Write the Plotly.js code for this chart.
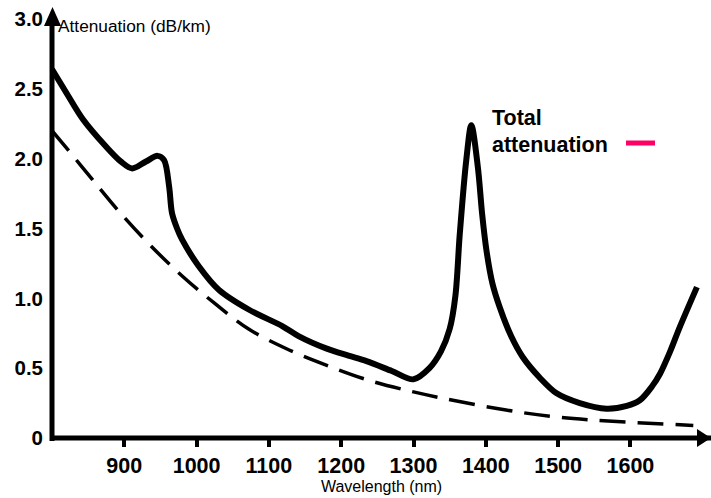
<!DOCTYPE html>
<html>
<head>
<meta charset="utf-8">
<script src="https://cdn.plot.ly/plotly-3.0.1.min.js"></script>
<style>html,body{margin:0;padding:0;background:#fff;}#chart{width:711px;height:498px;}</style>
</head>
<body>
<div id="chart"></div>
<script>
// Total attenuation curve (solid)
const totalWavelength = [800, 820, 843, 874, 895, 911, 930, 946, 955, 962, 966, 973, 980, 1003, 1031, 1072, 1119, 1141, 1180, 1210, 1235, 1270, 1300, 1322, 1338, 1350, 1358, 1364, 1373, 1380, 1389, 1395, 1401, 1409, 1419, 1435, 1451, 1475, 1498, 1530, 1567, 1595, 1613, 1630, 1641, 1655, 1668, 1692];
const totalAtten = [2.64, 2.47, 2.28, 2.09, 1.98, 1.93, 1.98, 2.02, 1.99, 1.80, 1.61, 1.50, 1.42, 1.23, 1.06, 0.92, 0.80, 0.73, 0.64, 0.59, 0.55, 0.48, 0.42, 0.50, 0.62, 0.78, 1.02, 1.46, 1.99, 2.24, 1.94, 1.60, 1.34, 1.11, 0.94, 0.73, 0.58, 0.43, 0.32, 0.25, 0.21, 0.23, 0.27, 0.37, 0.46, 0.62, 0.79, 1.08];
// Rayleigh scattering curve (dashed)
const rayleighWavelength = [800, 829, 856, 893, 934, 980, 1026, 1072, 1128, 1180, 1240, 1300, 1345, 1428, 1490, 1544, 1610, 1687];
const rayleighAtten = [2.20, 2.02, 1.85, 1.62, 1.39, 1.16, 0.96, 0.78, 0.63, 0.52, 0.41, 0.33, 0.28, 0.20, 0.155, 0.13, 0.11, 0.09];
// Tick labels
const xTickVals = [900, 1000, 1100, 1200, 1300, 1400, 1500, 1600];
const yTickVals = [0, 0.5, 1.0, 1.5, 2.0, 2.5, 3.0];
const yTickText = ["0", "0.5", "1.0", "1.5", "2.0", "2.5", "3.0"];

const W = 711, H = 498, L = 52, R = 0, T = 19, B = 60;
const PW = W - L - R, PH = H - T - B;
const px = x => (x - L) / PW;
const py = y => (H - B - y) / PH;

const FONT = 'Arial, "Liberation Sans", Helvetica, sans-serif';

const traces = [
  {x: totalWavelength, y: totalAtten, type: 'scatter', mode: 'lines',
   line: {color: '#000', width: 6, shape: 'spline', smoothing: 0.9}, showlegend: false, hoverinfo: 'skip'},
  {x: rayleighWavelength, y: rayleighAtten, type: 'scatter', mode: 'lines',
   line: {color: '#000', width: 3.5, dash: '26px,12px', shape: 'spline', smoothing: 1}, showlegend: false, hoverinfo: 'skip'}
];

const layout = {
  width: W, height: H,
  margin: {l: L, r: R, t: T, b: B, pad: 0},
  paper_bgcolor: '#fff', plot_bgcolor: '#fff',
  font: {family: FONT, color: '#000'},
  showlegend: false,
  xaxis: {
    range: [800, 800 + PW / 0.723], showgrid: false, zeroline: false, showline: false,
    tickmode: 'array', tickvals: xTickVals, ticks: 'outside', ticklen: 8, tickwidth: 4, tickcolor: '#000',
    tickfont: {family: FONT, size: 21.5, weight: 'bold', color: '#000'},
    title: {text: 'Wavelength (nm)', font: {family: FONT, size: 16, color: '#000'}, standoff: 2}
  },
  yaxis: {
    range: [0, 3], showgrid: false, zeroline: false, showline: false,
    tickmode: 'array', tickvals: yTickVals, ticktext: yTickText, ticks: '',
    ticklabelstandoff: 8,
    tickfont: {family: FONT, size: 20.5, weight: 'bold', color: '#000'}
  },
  shapes: [
    {type: 'line', xref: 'paper', yref: 'paper', x0: 0, x1: 0, y0: py(441), y1: 1, line: {color: '#000', width: 5}},
    {type: 'line', xref: 'paper', yref: 'paper', x0: px(50), x1: 1, y0: 0, y1: 0, line: {color: '#000', width: 5}},
    {type: 'path', xref: 'paper', yref: 'paper', fillcolor: '#000', line: {width: 0},
     path: `M ${px(52.5)} ${py(7)} L ${px(44)} ${py(26)} L ${px(61)} ${py(26)} Z`},
    {type: 'path', xref: 'paper', yref: 'paper', fillcolor: '#000', line: {width: 0},
     path: `M ${px(711)} ${py(438)} L ${px(697)} ${py(429)} L ${px(697)} ${py(447)} Z`},
    {type: 'line', xref: 'paper', yref: 'paper', x0: px(626), x1: px(655), y0: py(143), y1: py(143), line: {color: '#ff0066', width: 5}}
  ],
  annotations: [
    {xref: 'paper', yref: 'paper', x: px(56), y: py(26), xanchor: 'left', yanchor: 'middle', showarrow: false,
     text: 'Attenuation (dB/km)', font: {family: FONT, size: 17.3, color: '#000'}},
    {xref: 'paper', yref: 'paper', x: px(490), y: py(118), xanchor: 'left', yanchor: 'middle', align: 'left', showarrow: false,
     text: '<b>Total</b>', font: {family: FONT, size: 21.5, color: '#000'}},
    {xref: 'paper', yref: 'paper', x: px(490), y: py(145), xanchor: 'left', yanchor: 'middle', align: 'left', showarrow: false,
     text: '<b>attenuation</b>', font: {family: FONT, size: 21.5, color: '#000'}}
  ]
};

Plotly.newPlot('chart', traces, layout, {staticPlot: true, displayModeBar: false});
</script>
</body>
</html>
